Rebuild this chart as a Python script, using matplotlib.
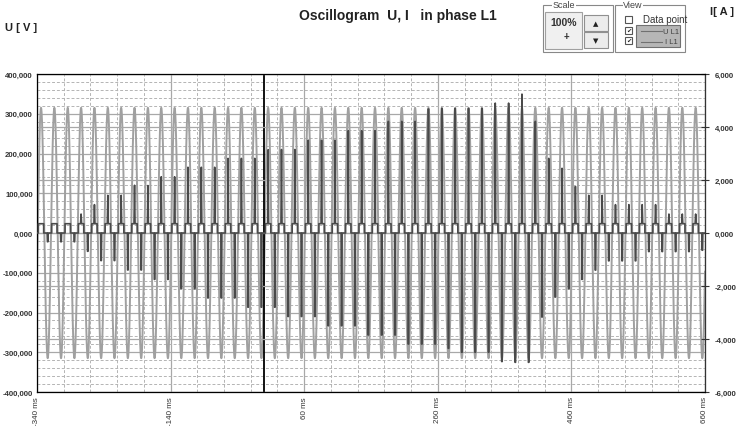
import numpy as np
import matplotlib
matplotlib.use('Agg')
import matplotlib.pyplot as plt
from matplotlib.patches import Rectangle
from matplotlib.lines import Line2D

plt.rcParams['font.family'] = ['Liberation Sans', 'DejaVu Sans']

# ---- data ----
t_start, t_end = -340, 660          # ms
u_ampl = 315000                     # V, voltage peak
period = 20                         # ms (50 Hz)
first_peak = -334                   # ms, first positive voltage peak
i_plateau = 350                     # A, small step around each positive peak

# current peaks per cycle (A): positive spike at U peak, negative spike at U trough
i_pos = [350, 350, 350, 715, 1070, 1420, 1420, 1800, 1790, 2120,
         2120, 2480, 2480, 2480, 2815, 2815, 2815, 3140, 3150, 3150,
         3500, 3500, 3500, 3860, 3860, 3860, 4210, 4210, 4210, 4680,
         4700, 4700, 4700, 4700, 4900, 4900, 5240, 4210, 2815, 2440,
         1760, 1420, 1420, 1070, 1070, 1070, 1070, 715, 715, 715]
i_neg = [330, 330, 330, 690, 1040, 1040, 1395, 1395, 1750, 1750,
         2100, 2100, 2450, 2450, 2450, 2800, 2800, 2800, 3150, 3150,
         3150, 3500, 3500, 3500, 3850, 3850, 3850, 4190, 4190, 4190,
         4350, 4500, 4500, 4500, 4850, 4880, 4880, 3170, 2415, 2100,
         1750, 1400, 1050, 1050, 1050, 700, 700, 700, 700, 650]

u_ticks = [400000, 300000, 200000, 100000, 0, -100000, -200000, -300000, -400000]
u_labels = ['400,000', '300,000', '200,000', '100,000', '0,000',
            '-100,000', '-200,000', '-300,000', '-400,000']
i_ticks = [6000, 4000, 2000, 0, -2000, -4000, -6000]
i_labels = ['6,000', '4,000', '2,000', '0,000', '-2,000', '-4,000', '-6,000']
t_ticks = [-340, -140, 60, 260, 460, 660]
t_labels = ['-340 ms', '-140 ms', '60 ms', '260 ms', '460 ms', '660 ms']

# voltage trace
t = np.linspace(t_start, t_end, 10001)
u = u_ampl * np.cos(2 * np.pi * (t - first_peak) / period)

# current trace vertices
ti, ci = [t_start], [0]
for k in range(len(i_pos)):
    tp = first_peak + period * k
    tn = tp + period / 2
    p, n = i_pos[k], i_neg[k]
    ti += [tp - 4, tp - 4, tp - 0.8, tp, tp + 0.8, tp + 4, tp + 4,
           tn - 0.8, tn - 0.4, tn + 0.4, tn + 0.8]
    ci += [0, i_plateau, i_plateau, p, i_plateau, i_plateau, 0,
           0, -n, -n, 0]
ti.append(t_end)
ci.append(0)

# ---- figure ----
W, H = 738, 427
fig = plt.figure(figsize=(W / 100, H / 100), dpi=100)
ax = fig.add_axes([37 / W, 34 / H, 668 / W, 318 / H])

tick_font = dict(fontsize=5.6, fontweight='bold', color='#333333')
ax.set_xlim(t_start, t_end)
ax.set_ylim(-400000, 400000)
ax.set_xticks(t_ticks)
ax.set_xticklabels(t_labels, rotation=90, fontsize=5.8, color='#333333')
ax.set_xticks(np.arange(-340, 661, 40), minor=True)
ax.set_yticks(u_ticks)
ax.set_yticklabels(u_labels, **tick_font)
ax.set_yticks(np.arange(-400000, 400001, 20000), minor=True)
ax.tick_params(which='both', length=0)
ax.tick_params(axis='x', pad=3)
ax.tick_params(axis='y', pad=3)
ax.grid(which='major', color='#a8a8a8', lw=0.9, ls='-')
ax.grid(which='minor', color='#b4b4b4', lw=0.7, ls=(0, (3, 2)))
ax.set_axisbelow(True)
for s in ax.spines.values():
    s.set_color('#666666')
    s.set_linewidth(0.9)

ax.plot(t, u, color='#a0a0a0', lw=1.4, zorder=2)
ax.axvline(0, color='black', lw=1.3, zorder=5)

ax2 = ax.twinx()
ax2.set_ylim(-6000, 6000)
ax2.set_yticks(i_ticks)
ax2.set_yticklabels(i_labels, **tick_font)
ax2.tick_params(axis='y', direction='inout', length=6, color='#333333', pad=4)
ax2.grid(axis='y', color='#a8a8a8', lw=0.9)
ax2.set_axisbelow(True)
ax2.spines['right'].set_color('#333333')
ax2.plot(ti, ci, color='#4a4a4a', lw=1.2, zorder=3)

# ---- texts ----
def px(x, y):
    return x / W, 1 - y / H

fig.text(*px(398, 16), 'Oscillogram  U, I   in phase L1', ha='center', va='center',
         fontsize=10, fontweight='bold', color='#222222')
fig.text(*px(5, 28), 'U [ V ]', ha='left', va='center', fontsize=8,
         fontweight='bold', color='#222222')
fig.text(*px(710, 12), 'I[ A ]', ha='left', va='center', fontsize=8,
         fontweight='bold', color='#222222')

# ---- control panel (Scale / View) ----
def rect(x0, y0, x1, y1, **kw):
    fig.add_artist(Rectangle(px(x0, y1), (x1 - x0) / W, (y1 - y0) / H,
                             transform=fig.transFigure, **kw))

def hline(x0, x1, y, **kw):
    fig.add_artist(Line2D([x0 / W, x1 / W], [1 - y / H, 1 - y / H],
                          transform=fig.transFigure, **kw))

rect(543, 6, 613, 53, fill=False, ec='#888888', lw=0.8)
rect(615, 6, 685, 53, fill=False, ec='#888888', lw=0.8)
fig.text(*px(564, 5.5), 'Scale', ha='center', va='center', fontsize=6.5,
         color='#444444', bbox=dict(fc='white', ec='none', pad=0.5))
fig.text(*px(633, 5.5), 'View', ha='center', va='center', fontsize=6.5,
         color='#444444', bbox=dict(fc='white', ec='none', pad=0.5))

rect(545, 13, 582, 50, fc='#f0f0f0', ec='#a0a0a0', lw=0.8)
fig.text(*px(564, 23), '100%', ha='center', va='center', fontsize=7.5,
         fontweight='bold', color='#333333')
fig.text(*px(566, 37), '+', ha='center', va='center', fontsize=7,
         fontweight='bold', color='#333333')
rect(584, 16, 608, 32, fc='#ececec', ec='#909090', lw=0.8)
rect(584, 33, 608, 49, fc='#ececec', ec='#909090', lw=0.8)
fig.text(*px(596, 24), '\u25b2', ha='center', va='center', fontsize=5,
         family='DejaVu Sans', color='#222222')
fig.text(*px(596, 41), '\u25bc', ha='center', va='center', fontsize=5,
         family='DejaVu Sans', color='#222222')

rect(625, 17, 632, 24, fc='white', ec='#555555', lw=0.8)
rect(625, 28, 632, 35, fc='white', ec='#555555', lw=0.8)
rect(625, 38, 632, 45, fc='white', ec='#555555', lw=0.8)
for yy in (31.5, 41.5):
    fig.text(*px(628.5, yy), '\u2714', ha='center', va='center', fontsize=4.5,
             family='DejaVu Sans', color='#222222')
fig.text(*px(643, 20), 'Data point', ha='left', va='center', fontsize=7,
         color='#333333')
rect(636, 26, 680, 48, fc='#b6b6b6', ec='#707070', lw=0.8)
hline(641, 662, 32, color='#707070', lw=0.8)
hline(641, 662, 43, color='#707070', lw=0.8)
fig.text(*px(663, 32), 'U L1', ha='left', va='center', fontsize=5.5, color='#404040')
fig.text(*px(665, 43), 'I L1', ha='left', va='center', fontsize=5.5, color='#404040')

fig.savefig('out.png', dpi=100)
